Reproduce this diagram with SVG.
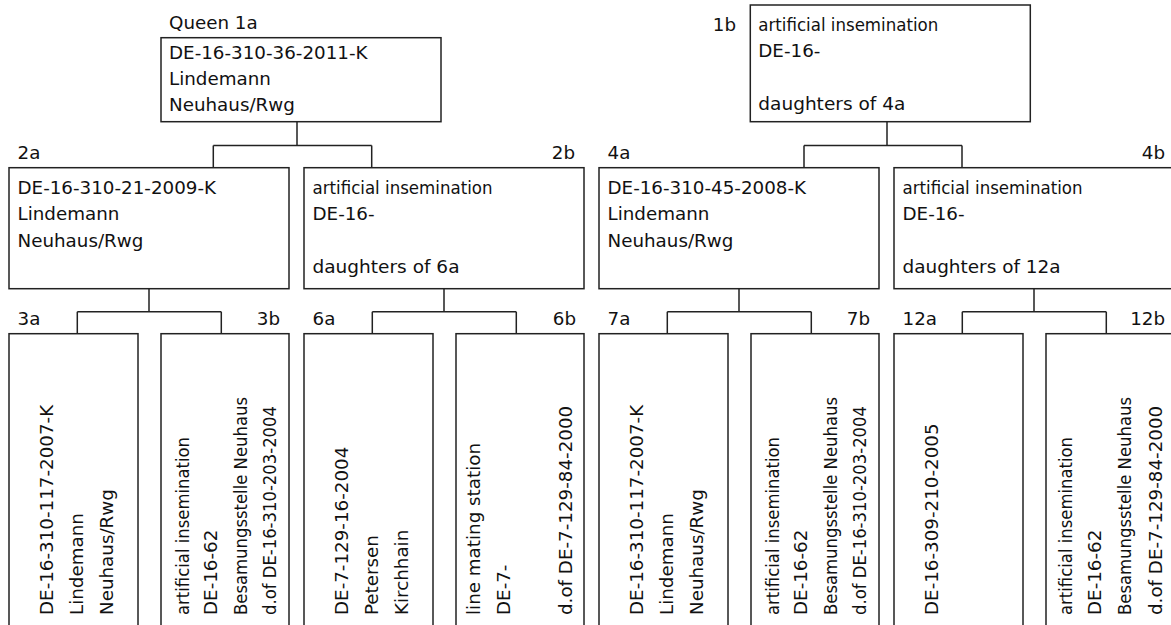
<svg xmlns="http://www.w3.org/2000/svg" width="1171" height="625" viewBox="0 0 1171 625">
<style>
  text { font-family: "DejaVu Sans", "Liberation Sans", sans-serif; font-size: 18.3px; fill: #111; }
  .box { fill: #fff; stroke: #222; stroke-width: 1.5; }
  .conn { fill: none; stroke: #222; stroke-width: 1.5; }
  .end { text-anchor: end; }
</style>
<rect width="1171" height="625" fill="#fff"/>

<g id="connectors">
  <path class="conn" d="M297 121.7V145.5M213.3 145.5H371.7M213.3 145.5V167.7M371.7 145.5V167.7"/>
  <path class="conn" d="M887 121.7V145.5M804 145.5H962M804 145.5V167.7M962 145.5V167.7"/>
  <path class="conn" d="M149 288.7V311.7M77.3 311.7H221.3M77.3 311.7V333.7M221.3 311.7V333.7"/>
  <path class="conn" d="M444 288.7V311.7M372.3 311.7H516.3M372.3 311.7V333.7M516.3 311.7V333.7"/>
  <path class="conn" d="M739 288.7V311.7M667.3 311.7H811.3M667.3 311.7V333.7M811.3 311.7V333.7"/>
  <path class="conn" d="M1034 288.7V311.7M962.3 311.7H1106.3M962.3 311.7V333.7M1106.3 311.7V333.7"/>
</g>

<g id="n1a">
  <text x="169" y="28.5">Queen 1a</text>
  <rect class="box" x="161" y="37.7" width="280" height="84"/>
  <text x="169" y="59">DE-16-310-36-2011-K</text>
  <text x="169" y="85">Lindemann</text>
  <text x="169" y="110.7">Neuhaus/Rwg</text>
</g>

<g id="n1b">
  <text class="end" x="736" y="31">1b</text>
  <rect class="box" x="750.3" y="5" width="280" height="116.7"/>
  <text x="758.3" y="31" textLength="180" lengthAdjust="spacingAndGlyphs">artificial insemination</text>
  <text x="758.3" y="57">DE-16-</text>
  <text x="758.3" y="110" textLength="147" lengthAdjust="spacingAndGlyphs">daughters of 4a</text>
</g>

<g id="n2a">
  <text x="17.5" y="158.5">2a</text>
  <rect class="box" x="9" y="167.7" width="280" height="121"/>
  <text x="17.5" y="193.5">DE-16-310-21-2009-K</text>
  <text x="17.5" y="220">Lindemann</text>
  <text x="17.5" y="246.5">Neuhaus/Rwg</text>
</g>

<g id="n2b">
  <text class="end" x="575" y="158.5">2b</text>
  <rect class="box" x="304" y="167.7" width="280" height="121"/>
  <text x="312.5" y="193.5" textLength="180" lengthAdjust="spacingAndGlyphs">artificial insemination</text>
  <text x="312.5" y="220">DE-16-</text>
  <text x="312.5" y="273" textLength="147" lengthAdjust="spacingAndGlyphs">daughters of 6a</text>
</g>

<g id="n4a">
  <text x="607.5" y="158.5">4a</text>
  <rect class="box" x="599" y="167.7" width="280" height="121"/>
  <text x="607.5" y="193.5">DE-16-310-45-2008-K</text>
  <text x="607.5" y="220">Lindemann</text>
  <text x="607.5" y="246.5">Neuhaus/Rwg</text>
</g>

<g id="n4b">
  <text class="end" x="1165" y="158.5">4b</text>
  <rect class="box" x="894" y="167.7" width="280" height="121"/>
  <text x="902.5" y="193.5" textLength="180" lengthAdjust="spacingAndGlyphs">artificial insemination</text>
  <text x="902.5" y="220">DE-16-</text>
  <text x="902.5" y="273" textLength="158" lengthAdjust="spacingAndGlyphs">daughters of 12a</text>
</g>

<g id="n3a">
  <text x="17.5" y="325">3a</text>
  <rect class="box" x="9" y="333.7" width="129" height="310"/>
  <text transform="translate(53,615) rotate(-90)">DE-16-310-117-2007-K</text>
  <text transform="translate(83,615) rotate(-90)">Lindemann</text>
  <text transform="translate(113,615) rotate(-90)">Neuhaus/Rwg</text>
</g>

<g id="n3b">
  <text class="end" x="280" y="325">3b</text>
  <rect class="box" x="161" y="333.7" width="128" height="310"/>
  <text transform="translate(189,615) rotate(-90)" textLength="178" lengthAdjust="spacingAndGlyphs">artificial insemination</text>
  <text transform="translate(217,615) rotate(-90)">DE-16-62</text>
  <text transform="translate(247,615) rotate(-90)" textLength="218" lengthAdjust="spacingAndGlyphs">Besamungsstelle Neuhaus</text>
  <text transform="translate(276,615) rotate(-90)" textLength="209" lengthAdjust="spacingAndGlyphs">d.of DE-16-310-203-2004</text>
</g>

<g id="n6a">
  <text x="312.5" y="325">6a</text>
  <rect class="box" x="304" y="333.7" width="129" height="310"/>
  <text transform="translate(348,615) rotate(-90)">DE-7-129-16-2004</text>
  <text transform="translate(378,615) rotate(-90)">Petersen</text>
  <text transform="translate(408,615) rotate(-90)">Kirchhain</text>
</g>

<g id="n6b">
  <text class="end" x="576" y="325">6b</text>
  <rect class="box" x="456" y="333.7" width="128" height="310"/>
  <text transform="translate(480,615) rotate(-90)">line mating station</text>
  <text transform="translate(510,615) rotate(-90)">DE-7-</text>
  <text transform="translate(572,615) rotate(-90)">d.of DE-7-129-84-2000</text>
</g>

<g id="n7a">
  <text x="607.5" y="325">7a</text>
  <rect class="box" x="599" y="333.7" width="129" height="310"/>
  <text transform="translate(643,615) rotate(-90)">DE-16-310-117-2007-K</text>
  <text transform="translate(673,615) rotate(-90)">Lindemann</text>
  <text transform="translate(703,615) rotate(-90)">Neuhaus/Rwg</text>
</g>

<g id="n7b">
  <text class="end" x="870" y="325">7b</text>
  <rect class="box" x="751" y="333.7" width="128" height="310"/>
  <text transform="translate(779,615) rotate(-90)" textLength="178" lengthAdjust="spacingAndGlyphs">artificial insemination</text>
  <text transform="translate(807,615) rotate(-90)">DE-16-62</text>
  <text transform="translate(837,615) rotate(-90)" textLength="218" lengthAdjust="spacingAndGlyphs">Besamungsstelle Neuhaus</text>
  <text transform="translate(866,615) rotate(-90)" textLength="209" lengthAdjust="spacingAndGlyphs">d.of DE-16-310-203-2004</text>
</g>

<g id="n12a">
  <text x="902.5" y="325">12a</text>
  <rect class="box" x="894" y="333.7" width="129" height="310"/>
  <text transform="translate(938,615) rotate(-90)">DE-16-309-210-2005</text>
</g>

<g id="n12b">
  <text class="end" x="1165" y="325">12b</text>
  <rect class="box" x="1046" y="333.7" width="128" height="310"/>
  <text transform="translate(1072,615) rotate(-90)" textLength="178" lengthAdjust="spacingAndGlyphs">artificial insemination</text>
  <text transform="translate(1101,615) rotate(-90)">DE-16-62</text>
  <text transform="translate(1131,615) rotate(-90)" textLength="218" lengthAdjust="spacingAndGlyphs">Besamungsstelle Neuhaus</text>
  <text transform="translate(1162,615) rotate(-90)">d.of DE-7-129-84-2000</text>
</g>
</svg>
